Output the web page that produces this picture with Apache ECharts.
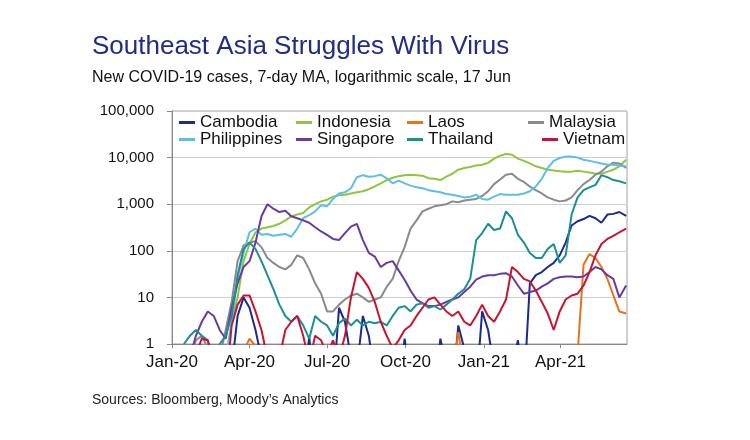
<!DOCTYPE html>
<html><head><meta charset="utf-8">
<script src="https://cdn.jsdelivr.net/npm/echarts@6/dist/echarts.min.js"></script>
<style>html,body{margin:0;padding:0;background:#fff}#c{width:750px;height:440px}</style>
</head><body><div id="c"></div>
<script>
// Weekly observation dates (7-day moving average)
const dates = [
'2020-01-15','2020-01-22','2020-01-29','2020-02-05','2020-02-12','2020-02-19','2020-02-26',
'2020-03-04','2020-03-11','2020-03-18','2020-03-25','2020-04-01','2020-04-08','2020-04-15',
'2020-04-22','2020-04-29','2020-05-06','2020-05-13','2020-05-20','2020-05-27','2020-06-03',
'2020-06-10','2020-06-17','2020-06-24','2020-07-01','2020-07-08','2020-07-15','2020-07-22',
'2020-07-29','2020-08-05','2020-08-12','2020-08-19','2020-08-26','2020-09-02','2020-09-09',
'2020-09-16','2020-09-23','2020-09-30','2020-10-07','2020-10-14','2020-10-21','2020-10-28',
'2020-11-04','2020-11-11','2020-11-18','2020-11-25','2020-12-02','2020-12-09','2020-12-16',
'2020-12-23','2020-12-30','2021-01-06','2021-01-13','2021-01-20','2021-01-27','2021-02-03',
'2021-02-10','2021-02-17','2021-02-24','2021-03-03','2021-03-10','2021-03-17','2021-03-24',
'2021-03-31','2021-04-07','2021-04-14','2021-04-21','2021-04-28','2021-05-05','2021-05-12',
'2021-05-19','2021-05-26','2021-06-02','2021-06-09','2021-06-17'];

// values below 1 sit under the log axis floor (near-zero days)
const cambodia = [0.1,0.1,0.1,0.1,0.1,0.1,0.1, 0.1,0.3,4,10,6,2,0.5, 0.1,0.1,0.1,0.1,0.1,0.3,0.1,
 1.4,0.1,0.1,0.1,0.1,6,3, 0.5,0.3,4,1.5,0.2,0.1,0.1, 0.8,0.1,1.3,0.2,0.1,0.1,0.1,
 0.1,1.3,0.3,0.1,2.5,0.8,0.2, 0.1,5,2,0.3,0.1,0.8,0.3, 1.2,0.1,20,30,35,45,55,
 80,150,350,430,480,560,500, 400,600,620,680,560];
const indonesia = [null,null,null,null,null,null,null, null,3,10,60,140,250,300, 320,340,380,450,550,600,650,
 850,1000,1150,1250,1450,1550,1600, 1700,1800,1900,2100,2400,2800,3300, 3700,4000,4200,4300,4200,4100,3600,
 3500,3300,3900,4500,5500,6000,6300, 6800,7000,7700,9500,11000,12000,11500, 9500,8500,7500,6500,6000,5500,5300,
 5100,5000,5000,5200,5000,4800,4500, 4500,5000,5500,6500,9000];
const laos = [0.1,0.1,0.1,0.1,0.1,0.1,0.1, 0.1,0.1,0.1,0.7,1.3,0.9,0.3, 0.1,0.1,0.1,0.1,0.1,0.1,0.1,
 0.1,0.1,0.1,0.1,0.1,0.1,0.1, 0.1,0.1,0.1,0.1,0.1,0.1,0.1, 0.1,0.1,0.1,0.1,0.1,0.1,0.1,
 0.1,0.1,0.1,0.2,1.8,0.3,0.1, 0.1,0.1,0.1,0.1,0.1,0.1,0.1, 0.1,0.1,0.1,0.1,0.1,0.1,0.3,
 0.1,0.1,0.1,0.6,50,85,70, 45,25,11,5,4.5];
const malaysia = [0.1,0.5,1.2,1.5,0.8,0.3,0.5, 2,8,60,130,150,160,120, 70,55,45,40,50,80,70,
 40,20,12,5,5,7,9, 11,12,10,8,9,10,17, 25,60,120,300,450,700,800,
 900,950,1000,1150,1100,1200,1250, 1300,1500,1900,2700,3400,4300,4500, 3500,3000,2400,2000,1700,1400,1250,
 1150,1200,1400,2000,2700,3300,4300, 5000,6500,7800,7500,6000];
const philippines = [null,null,null,null,null,null,0.1, 0.5,3,25,90,250,300,220, 230,210,220,230,200,300,500,
 580,700,950,900,1300,1700,1800, 2200,3800,4200,3900,4000,4300,3600, 2800,3200,2800,2500,2300,2200,2000,
 1900,1800,1650,1600,1500,1400,1450, 1600,1300,1250,1450,1650,1600,1600, 1600,1700,1900,2400,3500,6000,8500,
 9800,10500,10500,10000,9000,8500,8000, 7500,7000,7000,6800,6500];
const singapore = [null,0.5,1.5,3,5,4,2, 1.3,6,20,45,60,150,550, 1000,800,680,720,550,500,450,
 400,320,260,220,180,170,240, 330,380,170,90,75,45,55, 60,38,24,14,9,7.5,6.5,
 6.5,7,8,9,10,13,17, 24,28,30,30,32,33,28, 18,12,13,14,17,20,25,
 27,28,28,27,28,35,45, 40,30,25,10,18];
const thailand = [1,1.5,2,1.5,1.2,0.5,1, 1.5,4,30,110,150,110,60, 30,15,7,4,3,4,2.5,
 1.3,4,3,2.5,1.5,2.8,3.5, 2.5,3.3,2.5,3,2.8,3,2.5, 4,6,6.5,5,7,7.5,6,
 6.5,5.5,7,9,12,15,25, 170,240,380,280,300,700,500, 220,150,90,70,70,110,140,
 55,80,600,1400,2000,2300,2600, 4200,3800,3300,3100,2800];
const vietnam = [0.1,0.1,0.6,1.3,1.2,0.3,0.1, 0.1,2.5,7,11,11,5,2, 0.5,0.3,0.5,2,3,4,1.5,
 0.4,1.5,1.2,0.6,1.2,0.5,1.5, 10,35,25,16,8,3,1.5, 0.8,1.2,2,2.5,4,6,9,
 10,7,5,4,5,3,2.5, 4,7,4,3,5,9,45, 35,25,22,14,8,4.5,2,
 5,9,11,12,18,35,80, 140,180,210,250,300];

const seriesNames = ['Cambodia','Indonesia','Laos','Malaysia','Philippines','Singapore','Thailand','Vietnam'];
const seriesValues = [cambodia, indonesia, laos, malaysia, philippines, singapore, thailand, vietnam];
const seriesColors = ['#1b2a8e','#8fc63d','#e8721c','#8a8a8a','#5bbfe6','#6c3a9e','#1b8f96','#c8142f'];

const tickDates = ['2020-01-01','2020-04-01','2020-07-01','2020-10-01','2021-01-01','2021-04-01'];
const tickLabels = ['Jan-20','Apr-20','Jul-20','Oct-20','Jan-21','Apr-21'];
const yTickValues = [1,10,100,1000,10000,100000];
const yTickLabels = ['1','10','100','1,000','10,000','100,000'];

function ts(s){const p=s.split('-').map(Number);return Date.UTC(p[0],p[1]-1,p[2]);}
const xTicks = tickDates.map(ts);

const chart = echarts.init(document.getElementById('c'), null, {renderer:'canvas'});

const FONT = 'Liberation Sans, Arial, sans-serif';
// legend layout: [name, left, top]
const legendPos = [
 ['Cambodia',179,114],['Philippines',179,131],
 ['Indonesia',296,114],['Singapore',296,131],
 ['Laos',407,114],['Thailand',407,131],
 ['Malaysia',528,114],['Vietnam',542,131]];

const option = {
  animation:false,
  backgroundColor:'#fff',
  title:[
    {text:'Southeast Asia Struggles With Virus',left:92,top:34,padding:0,
     textStyle:{fontFamily:FONT,fontSize:26,lineHeight:26,fontWeight:'normal',color:'#1f2d86'}},
    {text:'New COVID-19 cases, 7-day MA, logarithmic scale, 17 Jun',left:92,top:70,padding:0,
     textStyle:{fontFamily:FONT,fontSize:16,lineHeight:16,fontWeight:'normal',color:'#111'}},
    {text:'Sources: Bloomberg, Moody\u2019s Analytics',left:92,top:393,padding:0,
     textStyle:{fontFamily:FONT,fontSize:14,lineHeight:14,fontWeight:'normal',color:'#222'}}
  ],
  legend: legendPos.map(p=>({data:[p[0]],left:p[1],top:p[2],padding:0,icon:'rect',itemWidth:16,itemHeight:3,
     textStyle:{fontFamily:FONT,fontSize:17,lineHeight:17,color:'#111'}})),
  grid:{left:172,right:123,top:111,bottom:96,show:true,borderColor:'#a0a0a0',borderWidth:1},
  xAxis:{type:'value',min:ts('2020-01-01'),max:ts('2021-06-18'),
    axisLine:{show:true,onZero:false,lineStyle:{color:'#888'}},
    splitLine:{show:false},
    axisTick:{show:true,customValues:xTicks,length:4,lineStyle:{color:'#888'}},
    axisLabel:{customValues:xTicks,margin:10,fontFamily:FONT,fontSize:17,color:'#111',
      formatter:v=>{const i=xTicks.indexOf(v);return i>=0?tickLabels[i]:'';}}},
  yAxis:{type:'log',logBase:10,min:1,max:100000,
    axisLine:{show:true,lineStyle:{color:'#888'}},
    axisTick:{show:true,length:5,lineStyle:{color:'#888'}},
    splitLine:{show:true,lineStyle:{color:'#cfcfcf'}},
    axisLabel:{margin:18,fontFamily:FONT,fontSize:15,color:'#111',
      formatter:v=>{const i=yTickValues.indexOf(Math.round(v));return i>=0?yTickLabels[i]:'';}}},
  series: seriesNames.map((n,k)=>({
    name:n,type:'line',symbol:'none',showSymbol:false,clip:true,connectNulls:false,
    color:seriesColors[k],
    lineStyle:{width:2,color:seriesColors[k]},
    data: dates.map((d,i)=>[ts(d), seriesValues[k][i]])
  }))
};
chart.setOption(option);
</script></body></html>
